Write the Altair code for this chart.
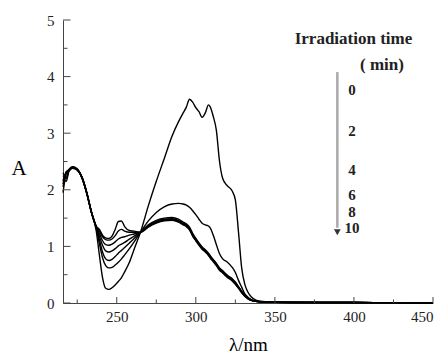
import altair as alt
import pandas as pd

# wavelength grid (nm)
wl = [216, 218, 220, 222, 225, 228, 231, 234, 237,
      239, 241, 243, 245, 247, 249, 251, 253, 255, 258, 261,
      265, 270, 275, 280, 285, 289, 292, 294, 296, 298,
      300, 302, 304, 306, 308, 309, 311, 313, 315, 317,
      320, 323, 325, 327, 329, 331, 333, 335, 338, 341,
      345, 350, 360, 380, 400, 425, 450]

c0 = [2.05, 2.30, 2.36, 2.40, 2.36, 2.22, 1.95, 1.60, 1.28,
      0.85, 0.45, 0.26, 0.24, 0.27, 0.32, 0.38, 0.45, 0.55, 0.72, 0.95,
      1.25, 1.72, 2.15, 2.55, 2.95, 3.20, 3.36, 3.46, 3.60, 3.55,
      3.45, 3.38, 3.28, 3.36, 3.50, 3.47, 3.30, 3.05, 2.50, 2.20,
      2.07, 1.98, 1.82, 1.25, 0.62, 0.33, 0.19, 0.11, 0.05, 0.03,
      0.02, 0.015, 0.012, 0.01, 0.008, 0.006, 0.005]
c1 = [2.20, 2.15, 2.35, 2.39, 2.35, 2.21, 1.94, 1.60, 1.32,
      1.05, 0.80, 0.66, 0.62, 0.63, 0.67, 0.72, 0.78, 0.85, 0.96, 1.08,
      1.25, 1.45, 1.60, 1.70, 1.75, 1.76, 1.75, 1.73, 1.69, 1.63,
      1.56, 1.48, 1.41, 1.38, 1.36, 1.33, 1.20, 1.03, 0.87, 0.78,
      0.72, 0.63, 0.54, 0.40, 0.28, 0.16, 0.10, 0.06, 0.035, 0.025,
      0.018, 0.015, 0.012, 0.01, 0.008, 0.006, 0.005]
c2 = [1.95, 2.28, 2.37, 2.40, 2.36, 2.23, 1.96, 1.61, 1.34,
      1.12, 0.90, 0.78, 0.75, 0.77, 0.82, 0.88, 0.93, 0.98, 1.06, 1.14,
      1.25, 1.38, 1.46, 1.50, 1.51, 1.48, 1.43, 1.40, 1.34, 1.23,
      1.14, 1.06, 0.99, 0.94, 0.88, 0.84, 0.77, 0.70, 0.62, 0.57,
      0.49, 0.43, 0.37, 0.29, 0.21, 0.14, 0.09, 0.055, 0.03, 0.022,
      0.016, 0.013, 0.011, 0.01, 0.008, 0.006, 0.005]
c3 = [2.25, 2.20, 2.36, 2.41, 2.37, 2.22, 1.95, 1.60, 1.34,
      1.18, 1.02, 0.92, 0.90, 0.92, 0.96, 1.01, 1.04, 1.07, 1.13, 1.18,
      1.25, 1.37, 1.44, 1.48, 1.49, 1.46, 1.41, 1.38, 1.32, 1.21,
      1.13, 1.05, 0.98, 0.93, 0.87, 0.83, 0.76, 0.69, 0.61, 0.56,
      0.48, 0.42, 0.36, 0.28, 0.20, 0.13, 0.085, 0.05, 0.03, 0.02,
      0.015, 0.012, 0.01, 0.01, 0.008, 0.006, 0.005]
c4 = [2.10, 2.32, 2.35, 2.40, 2.36, 2.22, 1.95, 1.61, 1.35,
      1.23, 1.10, 1.03, 1.02, 1.04, 1.08, 1.13, 1.16, 1.17, 1.20, 1.22,
      1.25, 1.36, 1.43, 1.47, 1.48, 1.45, 1.40, 1.37, 1.31, 1.20,
      1.12, 1.04, 0.97, 0.92, 0.86, 0.82, 0.75, 0.68, 0.60, 0.55,
      0.47, 0.41, 0.35, 0.28, 0.20, 0.13, 0.08, 0.05, 0.03, 0.02,
      0.015, 0.012, 0.01, 0.01, 0.008, 0.006, 0.005]
c5 = [2.30, 2.22, 2.36, 2.39, 2.35, 2.21, 1.94, 1.60, 1.35,
      1.27, 1.17, 1.12, 1.11, 1.13, 1.19, 1.27, 1.30, 1.27, 1.25, 1.25,
      1.25, 1.35, 1.42, 1.46, 1.47, 1.44, 1.39, 1.36, 1.30, 1.19,
      1.11, 1.03, 0.96, 0.91, 0.85, 0.81, 0.74, 0.67, 0.59, 0.54,
      0.46, 0.40, 0.34, 0.27, 0.19, 0.12, 0.075, 0.045, 0.028, 0.02,
      0.015, 0.012, 0.01, 0.009, 0.008, 0.006, 0.005]
c6 = [2.15, 2.30, 2.34, 2.38, 2.35, 2.21, 1.94, 1.60, 1.36,
      1.30, 1.20, 1.15, 1.14, 1.18, 1.30, 1.44, 1.45, 1.35, 1.28, 1.27,
      1.25, 1.34, 1.41, 1.45, 1.46, 1.43, 1.38, 1.35, 1.29, 1.18,
      1.10, 1.02, 0.95, 0.90, 0.84, 0.80, 0.73, 0.66, 0.58, 0.53,
      0.45, 0.39, 0.33, 0.26, 0.18, 0.12, 0.07, 0.045, 0.028, 0.02,
      0.015, 0.012, 0.01, 0.009, 0.008, 0.006, 0.005]

series = {"c0": c0, "c1": c1, "c2": c2, "c3": c3, "c4": c4, "c5": c5, "c6": c6}

x_major = [250, 300, 350, 400, 450]
x_minor = [225, 275, 325, 375, 425]
y_major = [0, 1, 2, 3, 4, 5]
y_minor = [0.5, 1.5, 2.5, 3.5, 4.5]

# legend annotation (in data coordinates)
leg_title = ["Irradiation time", "( min)"]
leg_title_x = [399.7, 417.7]
leg_title_y = [4.66, 4.20]
leg_times = ["0", "2", "4", "6", "8", "10"]
leg_times_y = [3.76, 3.04, 2.35, 1.91, 1.61, 1.33]
leg_times_x = [398.8] * 6
arrow_x = [389.5]
arrow_top = [4.08]
arrow_bottom = [1.33]
arrow_head = [1.25]

rows = []
for name, vals in series.items():
    assert len(vals) == len(wl)
    for w, v in zip(wl, vals):
        rows.append({"wl": w, "A": v, "series": name})
df = pd.DataFrame(rows)

W, H = 370, 283
AXC = "#444444"
FONT = "Liberation Serif"

xs = alt.Scale(domain=[216, 450], nice=False, zero=False)
ys = alt.Scale(domain=[0, 5], nice=False)

lines = alt.Chart(df).mark_line(color="black", strokeWidth=1.4, interpolate="monotone").encode(
    x=alt.X("wl:Q", scale=xs, axis=alt.Axis(
        values=x_major, format="d", title="λ/nm", labelPadding=6, titleY=47.5,
        titleBaseline="alphabetic", titleFontSize=19)),
    y=alt.Y("A:Q", scale=ys, axis=alt.Axis(
        values=y_major, format="d", title="A", labelPadding=9, titleAngle=0, titleX=-44.5,
        titleY=154.5, titleAlign="center", titleBaseline="alphabetic", titleFontSize=21)),
    detail="series:N",
)

def xticks(vals, length):
    return alt.Chart(pd.DataFrame({"wl": vals})).mark_rule(color=AXC, strokeWidth=1).encode(
        x=alt.X("wl:Q", scale=xs), y=alt.value(H), y2=alt.value(H - length))

def yticks(vals, length):
    return alt.Chart(pd.DataFrame({"A": vals})).mark_rule(color=AXC, strokeWidth=1).encode(
        y=alt.Y("A:Q", scale=ys), x=alt.value(0), x2=alt.value(length))

ttl = alt.Chart(pd.DataFrame({"wl": leg_title_x, "A": leg_title_y, "t": leg_title})).mark_text(
    font=FONT, fontSize=17, fontWeight="bold", color="#222", align="center", baseline="middle").encode(
    x=alt.X("wl:Q", scale=xs), y=alt.Y("A:Q", scale=ys), text="t:N")

tms = alt.Chart(pd.DataFrame({"wl": leg_times_x, "A": leg_times_y, "t": leg_times})).mark_text(
    font=FONT, fontSize=15, fontWeight="bold", color="#222", align="center", baseline="middle").encode(
    x=alt.X("wl:Q", scale=xs), y=alt.Y("A:Q", scale=ys), text="t:N")

arrow = alt.Chart(pd.DataFrame({"wl": arrow_x, "A": arrow_top, "A2": arrow_bottom})).mark_rule(
    color="#aaaaaa", strokeWidth=2.5).encode(
    x=alt.X("wl:Q", scale=xs), y=alt.Y("A:Q", scale=ys), y2="A2:Q")

head = alt.Chart(pd.DataFrame({"wl": arrow_x, "A": arrow_head})).mark_point(
    shape="triangle-down", filled=True, size=45, color="#333333", opacity=1).encode(
    x=alt.X("wl:Q", scale=xs), y=alt.Y("A:Q", scale=ys))

chart = alt.layer(
    lines, xticks(x_major, 6), xticks(x_minor, 3.5), yticks(y_major, 7.5), yticks(y_minor, 4.5),
    arrow, head, ttl, tms
).properties(
    width=W, height=H,
    autosize=alt.AutoSizeParams(type="none"),
    padding={"left": 55, "top": 12, "right": 5, "bottom": 53},
).configure_view(stroke=None).configure_axis(
    grid=False, ticks=False, tickSize=0, domainColor=AXC, domainWidth=1,
    labelFont=FONT, labelFontSize=15, labelColor="#222",
    titleFont=FONT, titleFontWeight="normal", titleColor="black",
)

chart.save("out.html", embed_options={"renderer": "svg", "actions": False})
